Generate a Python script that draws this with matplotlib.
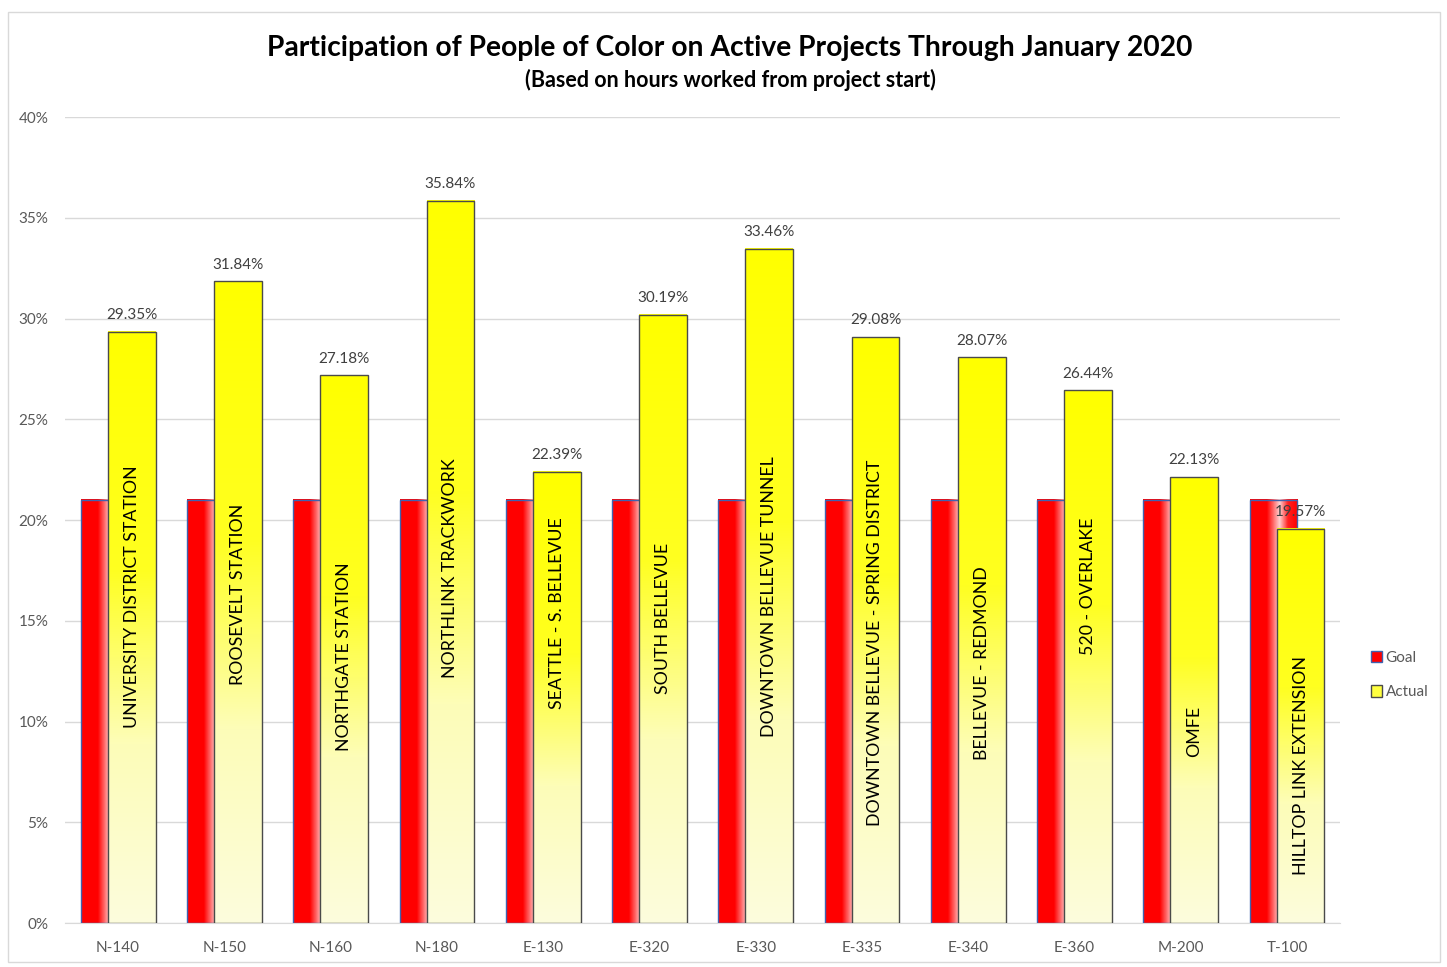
import numpy as np
import matplotlib
matplotlib.use("Agg")
import matplotlib.pyplot as plt
from matplotlib.colors import LinearSegmentedColormap
from matplotlib.patches import Rectangle, Patch

plt.rcParams['font.family'] = ['Lato', 'DejaVu Sans']

# project codes, names and participation values
codes = ["N-140", "N-150", "N-160", "N-180", "E-130", "E-320",
         "E-330", "E-335", "E-340", "E-360", "M-200", "T-100"]
names = ["UNIVERSITY DISTRICT STATION", "ROOSEVELT STATION", "NORTHGATE STATION",
         "NORTHLINK TRACKWORK", "SEATTLE - S. BELLEVUE", "SOUTH BELLEVUE",
         "DOWNTOWN BELLEVUE TUNNEL", "DOWNTOWN BELLEVUE - SPRING DISTRICT",
         "BELLEVUE - REDMOND", "520 - OVERLAKE", "OMFE", "HILLTOP LINK EXTENSION"]
goal = [21, 21, 21, 21, 21, 21, 21, 21, 21, 21, 21, 21]
actual = [29.35, 31.84, 27.18, 35.84, 22.39, 30.19, 33.46, 29.08, 28.07, 26.44, 22.13, 19.57]

# vertical centre of each project name inside its bar (in % units)
name_y = [16.2, 16.3, 13.2, 17.6, 15.4, 15.1, 16.2, 13.9, 12.9, 16.7, 9.5, 7.8]

fig = plt.figure(figsize=(14.47, 9.67), dpi=100)
ax = fig.add_axes([0.0449, 0.0455, 0.8813, 0.8335])

# gradient fills
red_cmap = LinearSegmentedColormap.from_list(
    "redbar", [(0.0, "#ff0000"), (0.35, "#ff0000"), (0.62, "#ffd0d0"),
               (0.8, "#ff2020"), (1.0, "#ff0000")])
yel_cmap = LinearSegmentedColormap.from_list(
    "yelbar", [(0.0, "#fcfcdc"), (0.3, "#fdfdb8"), (0.6, "#ffff20"), (1.0, "#ffff00")])

x = np.arange(len(codes))
w = 0.45
off = 0.127

hgrad = np.linspace(0, 1, 64).reshape(1, -1)
vgrad = np.linspace(0, 1, 128).reshape(-1, 1)

for i in range(len(codes)):
    # goal bar
    x0 = x[i] - off - w / 2
    ax.imshow(hgrad, cmap=red_cmap, extent=(x0, x0 + w, 0, goal[i]),
              aspect='auto', origin='lower', zorder=2, interpolation='bilinear')
    ax.add_patch(Rectangle((x0, 0), w, goal[i], fill=False,
                           edgecolor="#3f63b0", linewidth=1.0, zorder=3))
    # actual bar
    x1 = x[i] + off - w / 2
    ax.imshow(vgrad, cmap=yel_cmap, extent=(x1, x1 + w, 0, actual[i]),
              aspect='auto', origin='lower', zorder=4, interpolation='bilinear')
    ax.add_patch(Rectangle((x1, 0), w, actual[i], fill=False,
                           edgecolor="#4a4a4a", linewidth=1.0, zorder=5))
    ax.annotate(f"{actual[i]:.2f}%", (x[i] + off, actual[i]), xytext=(0, 7),
                textcoords='offset points', ha='center', va='bottom',
                fontsize=11, color="#404040", zorder=6)
    ax.text(x[i] + off, name_y[i], names[i], rotation=90, ha='center', va='center',
            fontsize=12.8, color="black", zorder=6)

ax.set_xlim(-0.5, len(codes) - 0.5)
ax.set_ylim(0, 40)
ax.set_yticks(range(0, 41, 5))
ax.set_yticklabels([f"{v}%" for v in range(0, 41, 5)])
ax.set_xticks(x)
ax.set_xticklabels(codes)
ax.tick_params(length=0, labelsize=11, labelcolor="#595959")
ax.tick_params(axis='y', pad=12)
ax.tick_params(axis='x', pad=13)
ax.grid(axis='y', color="#d9d9d9", linewidth=1.0, zorder=0)
ax.set_axisbelow(True)
for s in ["top", "right", "left"]:
    ax.spines[s].set_visible(False)
ax.spines["bottom"].set_color("#d9d9d9")

fig.text(0.5045, 0.950, "Participation of People of Color on Active Projects Through January 2020",
         ha='center', va='center', fontsize=20.3, fontweight='bold', color="black")
fig.text(0.5045, 0.917, "(Based on hours worked from project start)",
         ha='center', va='center', fontsize=15.5, fontweight='bold', color="black")

handles = [Patch(facecolor="#ff0000", edgecolor="#3f63b0", label="Goal"),
           Patch(facecolor="#ffff40", edgecolor="#4a4a4a", label="Actual")]
fig.legend(handles=handles, loc='center left', bbox_to_anchor=(0.938, 0.302),
           frameon=False, fontsize=11, handlelength=0.75, handleheight=0.75,
           handletextpad=0.2, labelspacing=1.35, labelcolor="#595959")

# outer chart border
fig.patches.append(Rectangle((8 / 1447, 1 - 962 / 967), 1432 / 1447, 950 / 967,
                             transform=fig.transFigure, fill=False,
                             edgecolor="#d9d9d9", linewidth=1.0))

fig.savefig("out.png", dpi=100)
